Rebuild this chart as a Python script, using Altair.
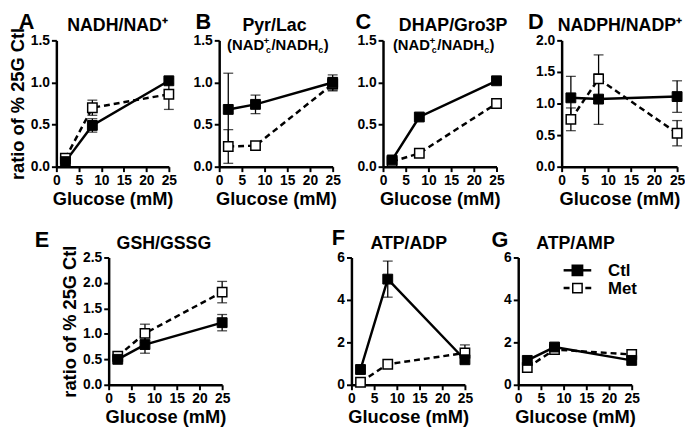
import altair as alt
import pandas as pd

# ---------------- data ----------------
glucose = [2, 8, 25]
series_names = ["Ctl", "Met"]

a_ctl = [0.06, 0.49, 1.02]; a_ctl_err = [0.02, 0.08, 0.03]
a_met = [0.10, 0.70, 0.86]; a_met_err = [0.03, 0.09, 0.18]
b_ctl = [0.68, 0.74, 1.00]; b_ctl_err = [0.43, 0.11, 0.09]
b_met = [0.24, 0.25, 0.98]; b_met_err = [0.20, 0.0, 0.08]
c_ctl = [0.08, 0.59, 1.02]; c_ctl_err = [0.0, 0.0, 0.0]
c_met = [0.06, 0.16, 0.75]; c_met_err = [0.0, 0.0, 0.0]
d_ctl = [1.09, 1.07, 1.11]; d_ctl_err = [0.34, 0.40, 0.25]
d_met = [0.75, 1.39, 0.53]; d_met_err = [0.18, 0.38, 0.20]
e_ctl = [0.50, 0.79, 1.22]; e_ctl_err = [0.05, 0.17, 0.16]
e_met = [0.56, 1.01, 1.82]; e_met_err = [0.07, 0.18, 0.21]
f_ctl = [0.72, 4.98, 1.18]; f_ctl_err = [0.0, 0.85, 0.0]
f_met = [0.12, 0.97, 1.50]; f_met_err = [0.0, 0.0, 0.38]
g_ctl = [1.15, 1.78, 1.15]; g_ctl_err = [0.0, 0.10, 0.0]
g_met = [0.81, 1.66, 1.43]; g_met_err = [0.0, 0.0, 0.0]

panel_letters = ["A", "B", "C", "D", "E", "F", "G"]
panel_titles = ["NADH/NAD⁺", "Pyr/Lac", "DHAP/Gro3P", "NADPH/NADP⁺", "GSH/GSSG", "ATP/ADP", "ATP/AMP"]
y_ticks = [
    [0, 0.5, 1.0, 1.5],
    [0, 0.5, 1.0, 1.5],
    [0, 0.5, 1.0, 1.5],
    [0, 0.5, 1.0, 1.5, 2.0],
    [0, 0.5, 1.0, 1.5, 2.0, 2.5],
    [0, 2, 4, 6],
    [0, 2, 4, 6],
]
x_ticks = [0, 5, 10, 15, 20, 25]
x_title = "Glucose (mM)"
y_title = "ratio of % 25G Ctl"
sub_parts = ["(NAD", "+", "c", "/NADH", "c", ")"]
legend_labels = ["Ctl", "Met"]

FONT = "Liberation Sans"
TOP_H = 128
BOT_H = 129


def txt(text, x, y, size, align="left", baseline="alphabetic"):
    return alt.Chart(pd.DataFrame({"t": [text]})).mark_text(
        font=FONT, fontSize=size, fontWeight="bold", color="black",
        align=align, baseline=baseline
    ).encode(text="t:N", x=alt.value(x), y=alt.value(y))


def panel(i, ctl, ctl_err, met, met_err, width, height, letter_x, letter_y,
          title_cx, show_ytitle=False, sub_x0=None, legend=False, fmt=".1f"):
    df = pd.DataFrame({
        "glucose": glucose * 2,
        "val": ctl + met,
        "err": ctl_err + met_err,
        "series": [series_names[0]] * 3 + [series_names[1]] * 3,
    })
    df["lo"] = df["val"] - df["err"]
    df["hi"] = df["val"] + df["err"]
    ticks = y_ticks[i]
    xs = alt.Scale(domain=[0, 25], nice=False, zero=False)
    ys = alt.Scale(domain=[0, ticks[-1]], nice=False)
    xaxis = alt.Axis(values=x_ticks, title=x_title, titlePadding=2)
    yaxis = alt.Axis(values=ticks, format=fmt, title=y_title if show_ytitle else None,
                     titlePadding=3)

    def X():
        return alt.X("glucose:Q", scale=xs, axis=xaxis)

    def Y(field):
        return alt.Y(field, scale=ys, axis=yaxis)

    base = alt.Chart(df)
    errs = base.transform_filter("datum.err > 0")
    rules = errs.mark_rule(color="black", strokeWidth=1.3).encode(
        x=X(), y=Y("lo:Q"), y2="hi:Q")
    caps_lo = errs.mark_tick(color="black", thickness=1.3, size=10, orient="horizontal").encode(
        x=X(), y=Y("lo:Q"))
    caps_hi = errs.mark_tick(color="black", thickness=1.3, size=10, orient="horizontal").encode(
        x=X(), y=Y("hi:Q"))
    met_line = base.transform_filter(alt.datum.series == "Met").mark_line(
        color="black", strokeWidth=2.5, strokeDash=[6, 4]).encode(x=X(), y=Y("val:Q"))
    ctl_line = base.transform_filter(alt.datum.series == "Ctl").mark_line(
        color="black", strokeWidth=2.5).encode(x=X(), y=Y("val:Q"))
    met_pts = base.transform_filter(alt.datum.series == "Met").mark_square(
        fill="white", stroke="black", strokeWidth=1.5, size=90, opacity=1).encode(
        x=X(), y=Y("val:Q"))
    ctl_pts = base.transform_filter(alt.datum.series == "Ctl").mark_square(
        fill="black", stroke="black", strokeWidth=1, size=100, opacity=1).encode(
        x=X(), y=Y("val:Q"))

    layers = [rules, caps_lo, caps_hi, met_line, ctl_line, met_pts, ctl_pts,
              txt(panel_letters[i], letter_x, letter_y, 22, baseline="top"),
              txt(panel_titles[i], title_cx, -9, 18, align="center")]

    if sub_x0 is not None:
        y0 = 10
        x0 = sub_x0
        layers += [
            txt(sub_parts[0], x0, y0, 15),
            txt(sub_parts[1], x0 + 37, y0 - 6, 10),
            txt(sub_parts[2], x0 + 39.5, y0 + 3, 9),
            txt(sub_parts[3], x0 + 45, y0, 15),
            txt(sub_parts[4], x0 + 92.5, y0 + 3, 9),
            txt(sub_parts[5], x0 + 98, y0, 15),
        ]

    if legend:
        one = pd.DataFrame({"k": [0]})
        layers += [
            alt.Chart(one).mark_rule(color="black", strokeWidth=2.5).encode(
                x=alt.value(46), x2=alt.value(74), y=alt.value(13)),
            alt.Chart(one).mark_square(fill="black", stroke="black", size=100, opacity=1).encode(
                x=alt.value(60), y=alt.value(13)),
            alt.Chart(one).mark_rule(color="black", strokeWidth=2.5, strokeDash=[6, 5]).encode(
                x=alt.value(46), x2=alt.value(75), y=alt.value(31)),
            alt.Chart(one).mark_square(fill="white", stroke="black", strokeWidth=1.5,
                                       size=90, opacity=1).encode(
                x=alt.value(60), y=alt.value(31)),
            txt(legend_labels[0], 91, 19, 17),
            txt(legend_labels[1], 91, 37, 17),
        ]

    return alt.layer(*layers).properties(width=width, height=height)


def spacer(w):
    return alt.Chart(pd.DataFrame({"v": [0]})).mark_point(opacity=0).encode(
        x=alt.X("v:Q", axis=None), y=alt.Y("v:Q", axis=None)
    ).properties(width=w, height=1)


pA = panel(0, a_ctl, a_ctl_err, a_met, a_met_err, 114, TOP_H, -38, -29, 62, show_ytitle=True)
pB = panel(1, b_ctl, b_ctl_err, b_met, b_met_err, 115, TOP_H, -24, -29, 56, sub_x0=8)
pC = panel(2, c_ctl, c_ctl_err, c_met, c_met_err, 115, TOP_H, -28, -29, 71, sub_x0=10)
pD = panel(3, d_ctl, d_ctl_err, d_met, d_met_err, 117, TOP_H, -34, -29, 59)
pE = panel(4, e_ctl, e_ctl_err, e_met, e_met_err, 115, BOT_H, -75, -28, 56, show_ytitle=True)
pF = panel(5, f_ctl, f_ctl_err, f_met, f_met_err, 115, BOT_H, -20, -30, 58, fmt="d")
pG = panel(6, g_ctl, g_ctl_err, g_met, g_met_err, 115, BOT_H, -27, -28, 58, legend=True, fmt="d")

top = alt.hconcat(pA, spacer(51), pB, spacer(51), pC, spacer(66), pD, spacing=0, bounds="flush")
bottom = alt.hconcat(spacer(53), pE, spacer(131), pF, spacer(54), pG, spacing=0, bounds="flush")

chart = alt.vconcat(top, bottom, spacing=19).properties(
    padding={"left": 0, "top": 0, "right": 0, "bottom": 0}
).configure_view(strokeWidth=0).configure_axis(
    domainColor="black", domainWidth=2.5, tickColor="black", tickWidth=2, tickSize=5,
    labelColor="black", labelFontSize=14, labelFontWeight="bold", labelFont=FONT,
    titleFont=FONT, titleFontSize=18.5, titleFontWeight="bold", titleColor="black",
    grid=False, labelPadding=2, labelFlush=False, labelOverlap=False
)

chart.save("out.html", embed_options={"renderer": "svg", "actions": False})
